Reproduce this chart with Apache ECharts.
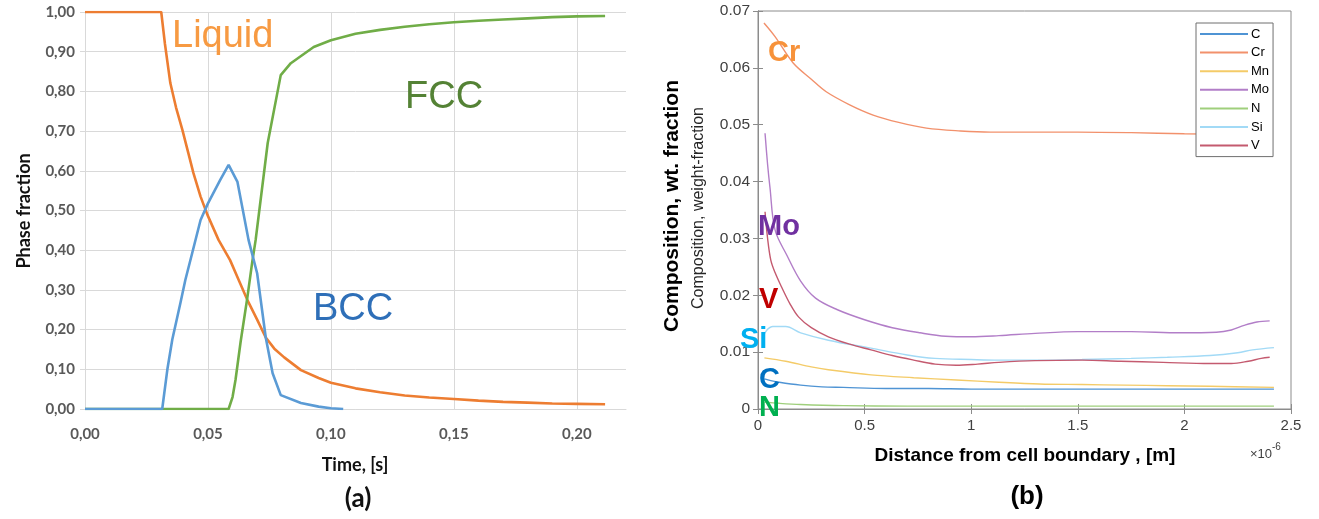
<!DOCTYPE html>
<html><head><meta charset="utf-8">
<script src="https://cdn.jsdelivr.net/npm/echarts@6/dist/echarts.min.js"></script>
<style>html,body{margin:0;padding:0;background:#fff}#c{width:1319px;height:519px}</style>
</head><body><div id="c"></div>
<script>
// ---------- Panel (a): phase fraction vs time ----------
const liquidT = [0,0.031,0.0325,0.0347,0.037,0.0396,0.042,0.0441,0.047,0.0498,0.0543,0.059,0.0625,0.066,0.070,0.0735,0.077,0.081,0.0878,0.095,0.100,0.110,0.120,0.130,0.140,0.150,0.160,0.170,0.180,0.190,0.200,0.2115];
const liquidV = [1,1,0.92,0.821,0.76,0.703,0.645,0.594,0.535,0.489,0.426,0.375,0.325,0.275,0.225,0.18,0.152,0.13,0.098,0.078,0.066,0.052,0.042,0.034,0.029,0.025,0.021,0.018,0.016,0.014,0.013,0.012];
const bccT = [0,0.0314,0.0335,0.0355,0.0388,0.0408,0.0436,0.047,0.050,0.055,0.0584,0.062,0.0665,0.070,0.0735,0.0763,0.0796,0.0878,0.095,0.100,0.105];
const bccV = [0,0,0.1,0.175,0.267,0.325,0.393,0.476,0.518,0.577,0.615,0.572,0.426,0.342,0.18,0.09,0.035,0.015,0.006,0.002,0.0];
const fccT = [0,0.0584,0.060,0.0612,0.0633,0.066,0.068,0.0694,0.0743,0.0796,0.0837,0.093,0.100,0.110,0.120,0.130,0.140,0.150,0.160,0.170,0.180,0.190,0.200,0.2115];
const fccV = [0,0,0.03,0.073,0.17,0.28,0.37,0.426,0.67,0.841,0.871,0.912,0.929,0.945,0.955,0.963,0.969,0.974,0.978,0.981,0.984,0.987,0.989,0.99];
const timeTicks = [0, 0.05, 0.10, 0.15, 0.20];

// ---------- Panel (b): composition vs distance (x in 1e-6 m) ----------
const elements = ['C','Cr','Mn','Mo','N','Si','V'];
const cX  = [0.03,0.06,0.1,0.2,0.3,0.4,0.6,0.8,1.0,1.5,2.0,2.42];
const cY  = [0.0053,0.0050,0.0047,0.0042,0.0039,0.0038,0.0036,0.0036,0.0035,0.0035,0.0035,0.0035];
const crX = [0.028,0.08,0.164,0.25,0.32,0.43,0.54,0.66,0.79,0.95,1.09,1.3,1.5,1.75,2.0,2.2,2.4];
const crY = [0.0679,0.0655,0.0609,0.058,0.0558,0.0535,0.0517,0.0504,0.0494,0.0489,0.0487,0.0487,0.0487,0.0486,0.0484,0.0483,0.0482];
const mnX = [0.03,0.13,0.25,0.33,0.53,0.73,0.93,1.13,1.32,1.52,1.72,1.92,2.12,2.42];
const mnY = [0.009,0.0084,0.0074,0.0069,0.006,0.0055,0.0051,0.0047,0.0044,0.0043,0.0042,0.0041,0.004,0.0038];
const moX = [0.033,0.045,0.056,0.08,0.136,0.2,0.27,0.37,0.5,0.63,0.76,0.88,1.0,1.13,1.3,1.5,1.75,1.98,2.15,2.22,2.28,2.34,2.4];
const moY = [0.0485,0.043,0.039,0.0315,0.027,0.0225,0.0195,0.0175,0.0157,0.0143,0.0134,0.0128,0.0127,0.0129,0.0133,0.0136,0.0136,0.0134,0.0135,0.0139,0.0147,0.0153,0.0155];
const nX  = [0.03,0.1,0.2,0.4,0.7,1.0,1.5,2.0,2.42];
const nY  = [0.0012,0.0010,0.0008,0.0006,0.0005,0.0005,0.0005,0.0005,0.0005];
const siX = [0.02,0.04,0.07,0.13,0.2,0.33,0.53,0.7,0.83,1.0,1.13,1.3,1.52,1.75,1.92,2.12,2.25,2.32,2.42];
const siY = [0.0124,0.0138,0.0145,0.0145,0.0134,0.0121,0.0107,0.0095,0.0089,0.0087,0.0086,0.0086,0.0087,0.0089,0.0091,0.0094,0.0099,0.0104,0.0108];
const vX  = [0.033,0.045,0.06,0.08,0.11,0.15,0.19,0.25,0.33,0.43,0.53,0.63,0.73,0.83,0.93,1.03,1.13,1.3,1.52,1.7,1.9,2.12,2.22,2.3,2.36,2.4];
const vY  = [0.0347,0.030,0.0262,0.024,0.0215,0.0185,0.0162,0.0143,0.0127,0.0114,0.0104,0.0094,0.0086,0.0079,0.0077,0.0079,0.0082,0.0085,0.0086,0.0084,0.0082,0.008,0.008,0.0084,0.0089,0.0091];

const zip = (a,b) => a.map((v,i)=>[v,b[i]]);
const elemData = {C:[cX,cY],Cr:[crX,crY],Mn:[mnX,mnY],Mo:[moX,moY],N:[nX,nY],Si:[siX,siY],V:[vX,vY]};
const elemColor = {C:'#4f94d4',Cr:'#f2916c',Mn:'#f4cb68',Mo:'#b27ec8',N:'#9fcf7c',Si:'#a2daf6',V:'#c45a6f'};

const EX = 'Lato, "Liberation Sans", sans-serif';
const ML = '"Liberation Sans", Arial, sans-serif';
const grid0 = {left:85, top:12, width:541, height:397};
const grid1 = {left:758, top:11, width:533, height:398};

const chart = echarts.init(document.getElementById('c'));
const series = [
  {name:'Liquid', type:'line', xAxisIndex:0, yAxisIndex:0, data:zip(liquidT,liquidV), showSymbol:false, lineStyle:{color:'#ed7d31',width:2.6}, itemStyle:{color:'#ed7d31'}},
  {name:'FCC', type:'line', xAxisIndex:0, yAxisIndex:0, data:zip(fccT,fccV), showSymbol:false, lineStyle:{color:'#70ad47',width:2.6}, itemStyle:{color:'#70ad47'}},
  {name:'BCC', type:'line', xAxisIndex:0, yAxisIndex:0, data:zip(bccT,bccV), showSymbol:false, lineStyle:{color:'#5b9bd5',width:2.6}, itemStyle:{color:'#5b9bd5'}}
];
elements.forEach(e => {
  series.push({name:e, type:'line', xAxisIndex:1, yAxisIndex:1, data:zip(elemData[e][0], elemData[e][1]),
    showSymbol:false, smooth:0.35, lineStyle:{color:elemColor[e], width:1.4}, itemStyle:{color:elemColor[e]}});
});

const lbl = (text,x,y,size,color,font,bold) => ({type:'text', z:100, style:{text, x, y, fill:color,
  font:(bold?'bold ':'')+size+'px '+font, textVerticalAlign:'middle', textAlign:'left'}});
const rot = (text,x,y,font,color) => ({type:'text', z:100, rotation:Math.PI/2, x, y,
  style:{text, x:0, y:0, fill:color, font, textAlign:'center', textVerticalAlign:'middle'}});
const ctr = (text,x,y,font,color) => ({type:'text', z:100, style:{text, x, y, fill:color, font, textAlign:'center', textVerticalAlign:'middle'}});

chart.setOption({
  animation:false,
  grid:[Object.assign({}, grid0), Object.assign({show:true, borderColor:'#8c8c8c', borderWidth:1}, grid1)],
  xAxis:[
    {type:'value', gridIndex:0, min:0, max:0.22, interval:0.05,
     axisLine:{show:true, lineStyle:{color:'#d9d9d9', width:1}}, axisTick:{show:false},
     splitLine:{show:true, showMaxLine:false, lineStyle:{color:'#d9d9d9', width:1}},
     axisLabel:{margin:18, color:'#595959', fontFamily:EX, fontSize:15, fontWeight:'bold', showMaxLabel:false,
       formatter:v => timeTicks.some(t=>Math.abs(t-v)<1e-9) ? v.toFixed(2).replace('.',',') : ''}},
    {type:'value', gridIndex:1, min:0, max:2.5, interval:0.5,
     axisLine:{show:true, lineStyle:{color:'#8c8c8c'}}, axisTick:{show:true, inside:true, length:5, lineStyle:{color:'#8c8c8c'}},
     splitLine:{show:false},
     axisLabel:{margin:9, color:'#404040', fontFamily:ML, fontSize:15, formatter:v => String(+v.toFixed(1))}},
    {type:'value', gridIndex:1, min:0, max:2.5, interval:0.5, position:'top',
     axisLine:{show:true, lineStyle:{color:'#8c8c8c'}}, axisTick:{show:true, inside:true, length:5, lineStyle:{color:'#8c8c8c'}},
     splitLine:{show:false}, axisLabel:{show:false}}
  ],
  yAxis:[
    {type:'value', gridIndex:0, min:0, max:1, interval:0.1,
     axisLine:{show:false}, axisTick:{show:true, length:5, lineStyle:{color:'#d9d9d9'}},
     splitLine:{show:true, lineStyle:{color:'#d9d9d9', width:1}},
     axisLabel:{margin:10, color:'#595959', fontFamily:EX, fontSize:15, fontWeight:'bold', formatter:v => v.toFixed(2).replace('.',',')}},
    {type:'value', gridIndex:1, min:0, max:0.07, interval:0.01,
     axisLine:{show:true, lineStyle:{color:'#8c8c8c'}}, axisTick:{show:true, inside:true, length:5, lineStyle:{color:'#8c8c8c'}},
     splitLine:{show:false},
     axisLabel:{margin:8, color:'#404040', fontFamily:ML, fontSize:15.5, formatter:v => Math.abs(v)<1e-9 ? '0' : v.toFixed(2)}},
    {type:'value', gridIndex:1, min:0, max:0.07, interval:0.01, position:'right',
     axisLine:{show:true, lineStyle:{color:'#8c8c8c'}}, axisTick:{show:true, inside:true, length:5, lineStyle:{color:'#8c8c8c'}},
     splitLine:{show:false}, axisLabel:{show:false}}
  ],
  legend:{data:elements, orient:'vertical', left:1196, top:23, width:82, itemWidth:48, itemHeight:2, itemGap:4.6,
    icon:'rect', padding:[4,4,4,4], borderColor:'#6f6f6f', borderWidth:1, backgroundColor:'#fff', selectedMode:false,
    textStyle:{fontFamily:ML, fontSize:13, color:'#000', lineHeight:14, padding:[0,0,0,-2]}},
  series,
  graphic:[
    lbl('Liquid', 172, 37, 38, '#f79a42', ML, false),
    lbl('FCC', 405, 98, 38, '#548235', ML, false),
    lbl('BCC', 313, 310, 38, '#2e6fb8', ML, false),
    rot('Phase fraction', 24, 211, 'bold 18px '+EX, '#111'),
    ctr('Time, [s]', 355, 465, 'bold 18px '+EX, '#111'),
    ctr('(a)', 358, 499, 'bold 26px '+EX, '#111'),
    lbl('Cr', 768, 53, 29, '#f7923a', ML, true),
    lbl('Mo', 758, 227, 29, '#7030a0', ML, true),
    lbl('V', 759, 300, 29, '#c00000', ML, true),
    lbl('Si', 740, 340, 29, '#00b0f0', ML, true),
    lbl('C', 759, 380, 29, '#0070c0', ML, true),
    lbl('N', 759, 408, 29, '#00b050', ML, true),
    rot('Composition, wt. fraction', 672, 206, 'bold 21px '+ML, '#000'),
    rot('Composition, weight-fraction', 699, 208, '16px '+ML, '#262626'),
    ctr('Distance from cell boundary , [m]', 1025, 456, 'bold 19px '+ML, '#000'),
    {type:'text', z:100, style:{text:'\u00d710', x:1250, y:454, fill:'#404040', font:'13px '+ML, textAlign:'left', textVerticalAlign:'middle'}},
    {type:'text', z:100, style:{text:'-6', x:1272, y:447, fill:'#404040', font:'10px '+ML, textAlign:'left', textVerticalAlign:'middle'}},
    ctr('(b)', 1027, 497, 'bold 26px '+ML, '#000')
  ]
});
</script></body></html>
